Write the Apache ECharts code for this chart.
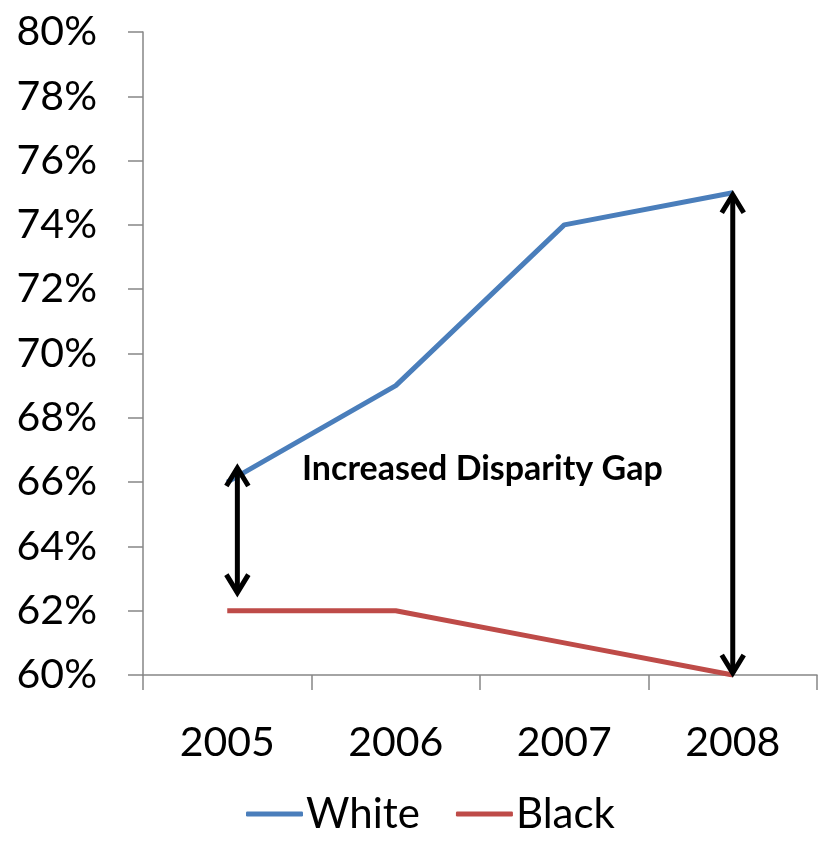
<!DOCTYPE html>
<html>
<head>
<meta charset="utf-8">
<script src="https://cdn.jsdelivr.net/npm/echarts@6/dist/echarts.min.js"></script>
<style>
  html, body { margin: 0; padding: 0; background: #fff; }
  #chart { width: 827px; height: 844px; }
</style>
</head>
<body>
<div id="chart"></div>
<script>
// data
const years = ["2005", "2006", "2007", "2008"];
const white = [66, 69, 74, 75];
const black = [62, 62, 61, 60];
// gap arrows: [x position (category index), top value, bottom value]
const gapArrows = [[0.06, 66.5, 62.5], [3, 75, 60]];
const noteText = "Increased Disparity Gap";

const axisGray = "#868686";
const font = "Lato";

const chart = echarts.init(document.getElementById("chart"));

function renderArrow(params, api) {
    const top = api.coord([api.value(0), api.value(1)]);
    const bot = api.coord([api.value(0), api.value(2)]);
    const hw = 11, hl = 20;
    const style = { stroke: "#000", lineWidth: 5, fill: null, lineJoin: "miter" };
    return {
        type: "group",
        children: [
            { type: "line", shape: { x1: top[0], y1: top[1] + 2, x2: bot[0], y2: bot[1] - 2 }, style: style },
            { type: "polyline", shape: { points: [[top[0] - hw, top[1] + hl], [top[0], top[1] + 2], [top[0] + hw, top[1] + hl]] }, style: style },
            { type: "polyline", shape: { points: [[bot[0] - hw, bot[1] - hl], [bot[0], bot[1] - 2], [bot[0] + hw, bot[1] - hl]] }, style: style }
        ]
    };
}

const option = {
    animation: false,
    textStyle: { fontFamily: font },
    grid: { left: 143, right: 10, top: 32, bottom: 169 },
    xAxis: [
        {
            type: "category",
            data: years,
            boundaryGap: true,
            axisLine: { lineStyle: { color: axisGray, width: 1.5 } },
            axisTick: { show: true, length: 15, lineStyle: { color: axisGray, width: 1.5 } },
            axisLabel: { color: "#000", fontSize: 41, fontFamily: font, margin: 47 }
        },
        { type: "value", min: -0.5, max: 3.5, show: false }
    ],
    yAxis: {
        type: "value",
        min: 60,
        max: 80,
        interval: 2,
        axisLine: { show: true, onZero: false, lineStyle: { color: axisGray, width: 1.5 } },
        axisTick: { show: true, length: 15, lineStyle: { color: axisGray, width: 1.5 } },
        splitLine: { show: false },
        axisLabel: { color: "#000", fontSize: 41, fontFamily: font, margin: 46, formatter: "{value}%" }
    },
    legend: {
        bottom: 4,
        left: 241,
        icon: "roundRect",
        itemWidth: 57,
        itemHeight: 5,
        itemGap: 36,
        textStyle: { fontSize: 42, color: "#000", fontFamily: font, padding: [0, 0, 0, -2] },
        data: ["White", "Black"]
    },
    graphic: [
        {
            type: "text",
            left: 302,
            top: 452,
            style: { text: noteText, font: "bold 34px Lato", fill: "#000" }
        }
    ],
    series: [
        {
            name: "White",
            type: "line",
            data: white,
            symbol: "none",
            lineStyle: { color: "#4A7EBB", width: 5 },
            itemStyle: { color: "#4A7EBB" }
        },
        {
            name: "Black",
            type: "line",
            data: black,
            symbol: "none",
            lineStyle: { color: "#BE4B48", width: 5 },
            itemStyle: { color: "#BE4B48" }
        },
        {
            type: "custom",
            xAxisIndex: 1,
            renderItem: renderArrow,
            data: gapArrows,
            silent: true,
            z: 5
        }
    ]
};

chart.setOption(option);
</script>
</body>
</html>
